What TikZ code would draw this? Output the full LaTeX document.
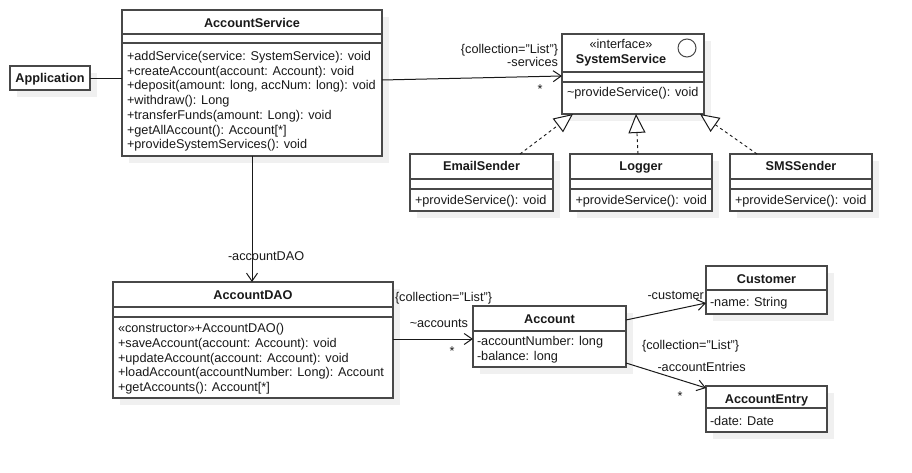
\documentclass[tikz,border=0pt]{standalone}
\usepackage{fontspec}
\setmainfont{Liberation Sans}
\usetikzlibrary{arrows.meta,calc}

\definecolor{edge}{RGB}{72,72,72}
\definecolor{shadowgray}{RGB}{240,240,240}
\definecolor{ink}{RGB}{25,25,25}

\newcommand\umlfont{\fontsize{12.7}{14.75}\selectfont}

\tikzset{
  classbox/.style={draw=edge, line width=1.2pt, fill=white, anchor=north west,
    inner sep=0pt, outer sep=0pt},
  boxshadow/.style={fill=shadowgray, draw=none},
  divider/.style={draw=edge, line width=1.2pt},
  txt/.style={inner sep=0pt, outer sep=0pt, text=ink, font=\umlfont},
  title/.style={txt, anchor=base, font=\umlfont\bfseries},
  member/.style={txt, anchor=base west},
  rlabel/.style={txt, anchor=base east},
  llabel/.style={txt, anchor=base west},
  mult/.style={txt, anchor=base},
  assoc/.style={draw=ink, line width=1pt,
    -{Straight Barb[length=8pt,width=11pt,line width=1pt]}},
  plainlink/.style={draw=ink, line width=1pt},
  realize/.style={draw=ink, line width=0.9pt, dash pattern=on 3pt off 3pt,
    -{Triangle[open,fill=white,length=19pt,width=17pt,line width=1pt]}},
}

% class box with its soft drop shadow: name, x, y, width, height
\newcommand\umlbox[5]{%
  \path[boxshadow] (#2+7,#3+7) rectangle ++(#4,#5);
  \node[classbox, minimum width=#4pt, minimum height=#5pt] (#1) at (#2,#3) {};}
% horizontal compartment separator, #2 points below the top edge
\newcommand\compline[2]{%
  \draw[divider] ([yshift=-#2pt]#1.north west) -- ([yshift=-#2pt]#1.north east);}
% member lines: node prefix, x, first baseline, list
\newcommand\memberlist[4]{%
  \foreach \t [count=\i from 0] in {#4}
    \node[member] (#1-\i) at (#2, #3 + \i*14.75) {\t};}

\begin{document}
\begin{tikzpicture}[x=1pt, y=-1pt]
\fill[white] (0,0) rectangle (912,473);
\useasboundingbox (0,0) rectangle (912,473);

% ---------- Application ----------
\umlbox{app}{10}{66}{80}{24}
\node[title] (app-t) at (50,82.5) {Application};

% ---------- AccountService ----------
\umlbox{as}{122}{10}{260}{146}
\compline{as}{24}
\compline{as}{33}
\node[title] (as-t) at (252,27.5) {AccountService};
\memberlist{as-m}{127}{60.5}{%
  {+addService(service: SystemService): void},
  {+createAccount(account: Account): void},
  {+deposit(amount: long, accNum: long): void},
  {+withdraw(): Long},
  {+transferFunds(amount: Long): void},
  {+getAllAccount(): Account[*]},
  {+provideSystemServices(): void}}

% ---------- SystemService (interface) ----------
\umlbox{ss}{562}{34}{142}{80}
\compline{ss}{38}
\compline{ss}{48}
\node[title, font=\umlfont] (ss-s) at (621,48.5) {«interface»};
\node[title] (ss-t) at (621,63.5) {SystemService};
\node[draw=edge, line width=1pt, circle, minimum size=18pt, inner sep=0pt] (ss-icon) at (687,48) {};
\node[member] (ss-m) at (567,96.5) {\textasciitilde provideService(): void};

% ---------- implementations ----------
\umlbox{email}{410}{154}{143}{57}
\compline{email}{25}
\compline{email}{35}
\node[title] (email-t) at (481.5,170.5) {EmailSender};
\node[member] (email-m) at (415,204.5) {+provideService(): void};

\umlbox{logger}{570}{154}{142}{57}
\compline{logger}{25}
\compline{logger}{35}
\node[title] (logger-t) at (641,170.5) {Logger};
\node[member] (logger-m) at (575.5,204.5) {+provideService(): void};

\umlbox{sms}{730}{154}{142}{57}
\compline{sms}{25}
\compline{sms}{35}
\node[title] (sms-t) at (801,170.5) {SMSSender};
\node[member] (sms-m) at (735,204.5) {+provideService(): void};

% ---------- AccountDAO ----------
\umlbox{dao}{113}{282}{280}{116}
\compline{dao}{25}
\compline{dao}{35}
\node[title] (dao-t) at (253,299.5) {AccountDAO};
\memberlist{dao-m}{118}{332.5}{%
  {«constructor»+AccountDAO()},
  {+saveAccount(account: Account): void},
  {+updateAccount(account: Account): void},
  {+loadAccount(accountNumber: Long): Account},
  {+getAccounts(): Account[*]}}

% ---------- Account ----------
\umlbox{acc}{473}{306}{153}{61}
\compline{acc}{25}
\node[title] (acc-t) at (549.5,323.5) {Account};
\memberlist{acc-m}{477}{345.5}{%
  {-accountNumber: long},
  {-balance: long}}

% ---------- Customer ----------
\umlbox{cust}{706}{266}{121}{48}
\compline{cust}{24}
\node[title] (cust-t) at (766.5,283.5) {Customer};
\node[member] (cust-m) at (710,306.5) {-name: String};

% ---------- AccountEntry ----------
\umlbox{ae}{706}{386}{121}{46}
\compline{ae}{22}
\node[title] (ae-t) at (766.5,403.5) {AccountEntry};
\node[member] (ae-m) at (710,425.5) {-date: Date};

% ---------- connectors ----------
\draw[plainlink] ([yshift=-13pt]app.north east) -- ([yshift=-69pt]as.north west);

\draw[assoc] ([yshift=-70pt]as.north east) -- ([yshift=-42pt]ss.north west);
\node[rlabel] (lbl-ss-c) at (558,53.5) {\{collection="List"\}};
\node[rlabel] (lbl-ss-r) at (558,66.5) {-services};
\node[mult] (lbl-ss-m) at (540,94) {*};

\draw[realize] ([xshift=110pt]email.north west) -- ([xshift=11pt]ss.south west);
\draw[realize] ([xshift=68pt]logger.north west) -- ([xshift=74pt]ss.south west);
\draw[realize] ([xshift=27pt]sms.north west) -- ([xshift=138pt]ss.south west);

\draw[assoc] (as.south) -- (as.south |- dao.north);
\node[llabel] (lbl-dao) at (228,260) {-accountDAO};

\draw[assoc] ([yshift=-57pt]dao.north east) -- ([yshift=-33pt]acc.north west);
\node[llabel] (lbl-acc-c) at (395,301) {\{collection="List"\}};
\node[rlabel] (lbl-acc-r) at (468,327) {\textasciitilde accounts};
\node[mult] (lbl-acc-m) at (452,355.5) {*};

\draw[assoc] ([yshift=-14pt]acc.north east) -- ([yshift=-37pt]cust.north west);
\node[llabel] (lbl-cust) at (647.5,299) {-customer};

\draw[assoc] ([yshift=-57pt]acc.north east) -- ([yshift=-2pt]ae.north west);
\node[llabel] (lbl-ae-c) at (642,349) {\{collection="List"\}};
\node[llabel] (lbl-ae-r) at (657.5,371) {-accountEntries};
\node[mult] (lbl-ae-m) at (680,400) {*};
\end{tikzpicture}
\end{document}
